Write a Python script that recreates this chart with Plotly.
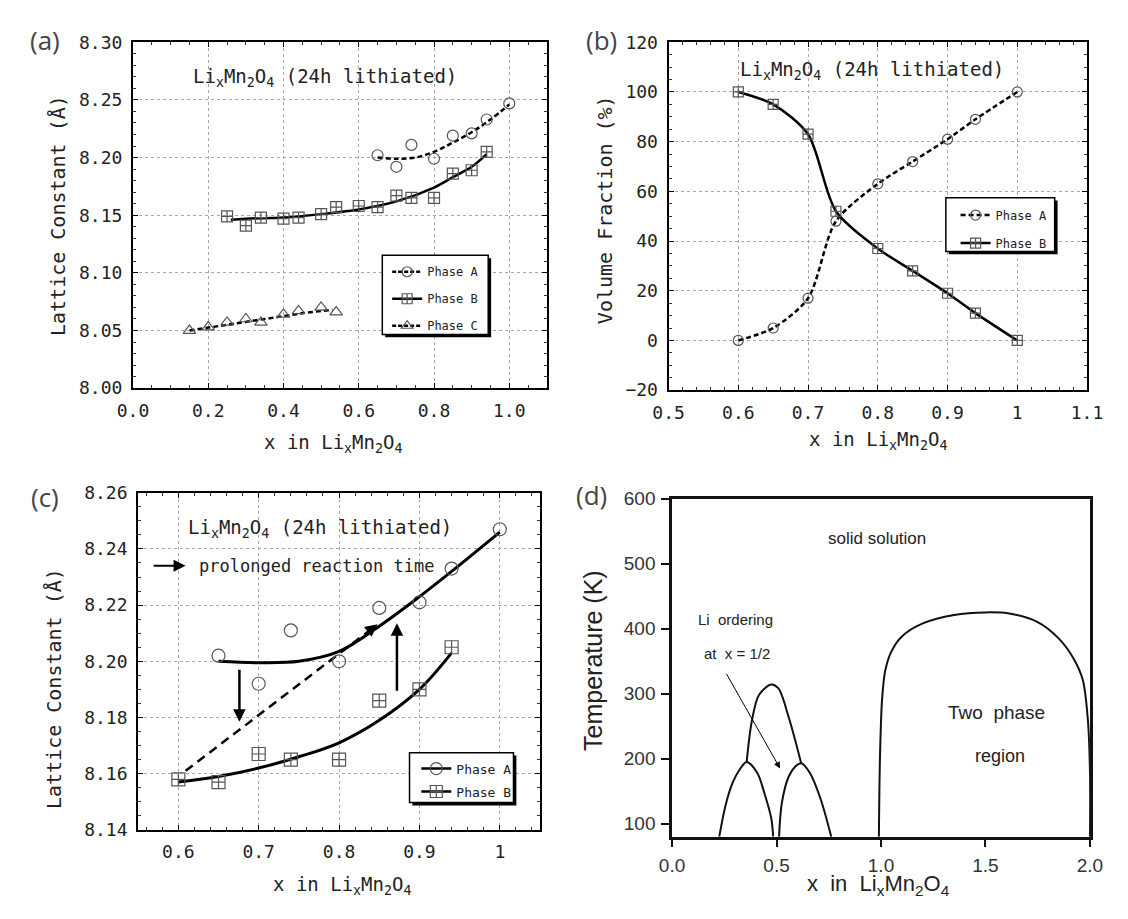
import plotly.graph_objects as go

W, H = 1128, 919
def px(x): return x / W
def py(y): return 1 - y / H

MONO = "DejaVu Sans Mono"
SANS = "Liberation Sans"
LBL = "Open Sans"

# ---------------- panel (a) data ----------------
a_A_x = [0.65, 0.70, 0.74, 0.80, 0.85, 0.90, 0.94, 1.00]
a_A_y = [8.202, 8.192, 8.211, 8.199, 8.219, 8.221, 8.233, 8.247]
a_B_x = [0.25, 0.30, 0.34, 0.40, 0.44, 0.50, 0.54, 0.60, 0.65, 0.70, 0.74, 0.80, 0.85, 0.90, 0.94]
a_B_y = [8.149, 8.141, 8.148, 8.147, 8.148, 8.151, 8.157, 8.158, 8.157, 8.167, 8.165, 8.165, 8.186, 8.189, 8.205]
a_C_x = [0.15, 0.20, 0.25, 0.30, 0.34, 0.40, 0.44, 0.50, 0.54]
a_C_y = [8.050, 8.053, 8.057, 8.060, 8.057, 8.064, 8.067, 8.070, 8.066]
a_fitA_x = [0.65, 0.70, 0.75, 0.80, 0.85, 0.90, 0.95, 1.00]
a_fitA_y = [8.200, 8.199, 8.200, 8.205, 8.213, 8.222, 8.233, 8.246]
a_fitB_x = [0.26, 0.30, 0.40, 0.50, 0.60, 0.70, 0.80, 0.85, 0.90, 0.94]
a_fitB_y = [8.146, 8.147, 8.148, 8.151, 8.155, 8.162, 8.174, 8.183, 8.192, 8.203]
a_fitC_x = [0.15, 0.25, 0.35, 0.45, 0.53]
a_fitC_y = [8.050, 8.055, 8.060, 8.065, 8.068]

# ---------------- panel (b) data ----------------
b_x = [0.60, 0.65, 0.70, 0.74, 0.80, 0.85, 0.90, 0.94, 1.00]
b_A = [0, 5, 17, 48, 63, 72, 81, 89, 100]
b_B = [100, 95, 83, 52, 37, 28, 19, 11, 0]

# ---------------- panel (c) data ----------------
c_A_x = [0.65, 0.70, 0.74, 0.80, 0.85, 0.90, 0.94, 1.00]
c_A_y = [8.202, 8.192, 8.211, 8.200, 8.219, 8.221, 8.233, 8.247]
c_B_x = [0.60, 0.65, 0.70, 0.74, 0.80, 0.85, 0.90, 0.94]
c_B_y = [8.158, 8.157, 8.167, 8.165, 8.165, 8.186, 8.190, 8.205]
c_fitA_x = [0.65, 0.70, 0.75, 0.80, 0.85, 0.90, 0.94, 1.00]
c_fitA_y = [8.200, 8.1995, 8.200, 8.2035, 8.2125, 8.223, 8.232, 8.246]
c_fitB_x = [0.60, 0.65, 0.70, 0.75, 0.80, 0.85, 0.90, 0.94]
c_fitB_y = [8.157, 8.159, 8.162, 8.166, 8.171, 8.179, 8.190, 8.203]
c_dash_x = [0.609, 0.845]
c_dash_y = [8.161, 8.2125]

# ---------------- panel (d) data ----------------
d_left_x = [0.226, 0.256, 0.29, 0.323, 0.357, 0.408, 0.441, 0.475, 0.484]
d_left_y = [80, 128, 163, 183, 195, 178, 148, 108, 80]
d_right_x = [0.512, 0.526, 0.559, 0.59, 0.618, 0.66, 0.711, 0.762]
d_right_y = [80, 133, 173, 188, 193, 178, 138, 80]
d_mid_x = [0.357, 0.382, 0.416, 0.475, 0.509, 0.559, 0.618]
d_mid_y = [195, 258, 298, 314, 308, 263, 193]
d_big_x = [0.99, 0.995, 1.005, 1.02, 1.05, 1.10, 1.20, 1.35, 1.50, 1.62, 1.75, 1.85, 1.92, 1.965, 1.99, 2.0, 2.0]
d_big_y = [80, 200, 290, 335, 365, 388, 408, 421, 425, 423, 410, 385, 355, 322, 260, 180, 80]

fig = go.Figure()

# ---- (a) traces
fig.add_trace(go.Scatter(x=a_fitA_x, y=a_fitA_y, mode="lines", line=dict(color="black", width=2.5, dash="5px,3px", shape="spline"), showlegend=False, xaxis="x", yaxis="y"))
fig.add_trace(go.Scatter(x=a_fitB_x, y=a_fitB_y, mode="lines", line=dict(color="black", width=2.5, shape="spline"), showlegend=False, xaxis="x", yaxis="y"))
fig.add_trace(go.Scatter(x=a_fitC_x, y=a_fitC_y, mode="lines", line=dict(color="black", width=2.5, dash="5px,3px", shape="spline"), showlegend=False, xaxis="x", yaxis="y"))
mk = dict(size=11, color="#555", line=dict(width=1.2))
fig.add_trace(go.Scatter(x=a_A_x, y=a_A_y, mode="markers", marker=dict(symbol="circle-open", **mk), showlegend=False, xaxis="x", yaxis="y"))
fig.add_trace(go.Scatter(x=a_B_x, y=a_B_y, mode="markers", marker=dict(symbol="square-cross-open", **mk), showlegend=False, xaxis="x", yaxis="y"))
fig.add_trace(go.Scatter(x=a_C_x, y=a_C_y, mode="markers", marker=dict(symbol="triangle-up-open", **mk), showlegend=False, xaxis="x", yaxis="y"))
for nm, sym, dash in [("Phase A", "circle-open", "4px,2px"), ("Phase B", "square-cross-open", "solid"), ("Phase C", "triangle-up-open", "4px,2px")]:
    fig.add_trace(go.Scatter(x=[None], y=[None], mode="lines+markers", name=nm, legend="legend", legendgroup="a" + nm,
                             line=dict(color="black", width=2.5, dash=dash), marker=dict(symbol=sym, size=10, color="#555", line=dict(width=1.2)),
                             xaxis="x", yaxis="y"))

# ---- (b) traces
fig.add_trace(go.Scatter(x=b_x, y=b_A, mode="lines+markers", name="Phase A", legend="legend2", legendgroup="bA",
                         line=dict(color="black", width=2.5, dash="5px,3px", shape="spline", smoothing=0.8),
                         marker=dict(symbol="circle-open", size=10, color="#555", line=dict(width=1.2)), xaxis="x2", yaxis="y2"))
fig.add_trace(go.Scatter(x=b_x, y=b_B, mode="lines+markers", name="Phase B", legend="legend2", legendgroup="bB",
                         line=dict(color="black", width=2.5, shape="spline", smoothing=0.8),
                         marker=dict(symbol="square-cross-open", size=10, color="#555", line=dict(width=1.2)), xaxis="x2", yaxis="y2"))

# ---- (c) traces
fig.add_trace(go.Scatter(x=c_fitA_x, y=c_fitA_y, mode="lines", line=dict(color="black", width=3, shape="spline"), showlegend=False, xaxis="x3", yaxis="y3"))
fig.add_trace(go.Scatter(x=c_fitB_x, y=c_fitB_y, mode="lines", line=dict(color="black", width=3, shape="spline"), showlegend=False, xaxis="x3", yaxis="y3"))
fig.add_trace(go.Scatter(x=c_dash_x, y=c_dash_y, mode="lines", line=dict(color="black", width=2.5, dash="9px,6px"), showlegend=False, xaxis="x3", yaxis="y3"))
mkc = dict(size=13, color="#555", line=dict(width=1.2))
fig.add_trace(go.Scatter(x=c_A_x, y=c_A_y, mode="markers", marker=dict(symbol="circle-open", **mkc), showlegend=False, xaxis="x3", yaxis="y3"))
fig.add_trace(go.Scatter(x=c_B_x, y=c_B_y, mode="markers", marker=dict(symbol="square-cross-open", **mkc), showlegend=False, xaxis="x3", yaxis="y3"))
for nm, sym in [("Phase A", "circle-open"), ("Phase B", "square-cross-open")]:
    fig.add_trace(go.Scatter(x=[None], y=[None], mode="lines+markers", name=nm, legend="legend3", legendgroup="c" + nm,
                             line=dict(color="black", width=2.5), marker=dict(symbol=sym, size=12, color="#555", line=dict(width=1.2)),
                             xaxis="x3", yaxis="y3"))

# ---- (d) traces
for xs, ys in [(d_left_x, d_left_y), (d_right_x, d_right_y), (d_mid_x, d_mid_y), (d_big_x, d_big_y)]:
    fig.add_trace(go.Scatter(x=xs, y=ys, mode="lines", line=dict(color="#111", width=2, shape="spline", smoothing=0.9),
                             showlegend=False, xaxis="x4", yaxis="y4"))


def sci_axis(domain, rng, dtick, mdtick, fmt, anchor, tick0=0):
    return dict(domain=domain, range=rng, dtick=dtick, tick0=tick0, tickformat=fmt, anchor=anchor,
                showgrid=True, gridcolor="#a8a8a8", griddash="dot", gridwidth=1,
                showline=True, linecolor="black", linewidth=2, mirror="allticks",
                ticks="inside", ticklen=5, tickwidth=1, tickcolor="black",
                minor=dict(ticks="inside", ticklen=3, dtick=mdtick, tickcolor="#333", showgrid=False),
                tickfont=dict(family=MONO, size=18, color="#222"), zeroline=False, ticklabelstandoff=5)


def d_axis(domain, rng, dtick, fmt, anchor):
    return dict(domain=domain, range=rng, dtick=dtick, tick0=0, tickformat=fmt, anchor=anchor,
                showgrid=False, showline=True, linecolor="#111", linewidth=2.5, mirror=True,
                ticks="outside", ticklen=8, tickwidth=2, tickcolor="#111",
                tickfont=dict(family=SANS, size=19, color="#333"), zeroline=False, ticklabelstandoff=2)


fig.update_layout(
    width=W, height=H, margin=dict(l=0, r=0, t=0, b=0),
    paper_bgcolor="white", plot_bgcolor="white",
    xaxis=sci_axis([px(120.4), px(546.4)], [0, 1.1], 0.2, 0.05, ".1f", "y"),
    yaxis=sci_axis([py(386), py(32)], [8.0, 8.3], 0.05, 0.01, ".2f", "x"),
    xaxis2=sci_axis([px(671.6), px(1102.3)], [0.5, 1.1], 0.1, 0.02, "", "y2"),
    yaxis2=sci_axis([py(388), py(32)], [-20, 120], 20, 5, "", "x2"),
    xaxis3=sci_axis([px(125.7), px(539.3)], [0.55, 1.05], 0.1, 0.02, "", "y3"),
    yaxis3=sci_axis([py(838), py(493)], [8.14, 8.26], 0.02, 0.005, ".2f", "x3"),
    xaxis4=d_axis([px(675.2), px(1105.3)], [0, 2], 0.5, ".1f", "y4"),
    yaxis4=d_axis([py(845), py(499)], [80, 600], 100, "", "x4"),
    legend=dict(x=px(382), y=py(252), xanchor="left", yanchor="top", bgcolor="rgba(0,0,0,0)", borderwidth=0,
                font=dict(family=MONO, size=12, color="#222"), itemwidth=30, tracegroupgap=8, traceorder="grouped"),
    legend2=dict(x=px(967), y=py(194), xanchor="left", yanchor="top", bgcolor="rgba(0,0,0,0)", borderwidth=0,
                 font=dict(family=MONO, size=12, color="#222"), itemwidth=30, tracegroupgap=9, traceorder="grouped"),
    legend3=dict(x=px(412), y=py(760), xanchor="left", yanchor="top", bgcolor="rgba(0,0,0,0)", borderwidth=0,
                 font=dict(family=MONO, size=13, color="#222"), itemwidth=30, tracegroupgap=3, traceorder="grouped"),
)

# legend boxes with shadow
shapes = []
for (x0, y0, x1, y1) in [(377, 250, 486, 331), (957, 191, 1069, 246), (405, 759, 512, 810)]:
    shapes.append(dict(type="rect", xref="paper", yref="paper", x0=px(x0 + 3), x1=px(x1 + 3), y0=py(y1 + 3), y1=py(y0 + 3),
                       fillcolor="black", line=dict(width=0), layer="above"))
    shapes.append(dict(type="rect", xref="paper", yref="paper", x0=px(x0), x1=px(x1), y0=py(y1), y1=py(y0),
                       fillcolor="white", line=dict(color="black", width=1.5), layer="above"))
fig.update_layout(shapes=shapes)

ann = []
def txt(x, y, s, size, family=MONO, color="#222", angle=0, xanchor="center"):
    ann.append(dict(x=px(x), y=py(y), xref="paper", yref="paper", text=s, showarrow=False, textangle=angle,
                    xanchor=xanchor, yanchor="middle", font=dict(family=family, size=size, color=color)))

formula = "Li<sub>x</sub>Mn<sub>2</sub>O<sub>4</sub>"
# panel labels
txt(30, 30, "(a)", 26, LBL, "#444")
txt(603, 30, "(b)", 26, LBL, "#444")
txt(30, 497, "(c)", 26, LBL, "#444")
txt(592, 495, "(d)", 26, LBL, "#444")
# titles
txt(180, 68, formula + " (24h lithiated)", 19, xanchor="left")
txt(743, 61, formula + " (24h lithiated)", 19, xanchor="left")
txt(175, 530, formula + " (24h lithiated)", 19, xanchor="left")
txt(186, 568, "prolonged reaction time", 17, xanchor="left")
# axis titles
txt(43, 209, "Lattice Constant (Å)", 20, angle=-90)
txt(326, 443, "x in " + formula, 19)
txt(607, 203, "Volume Fraction (%)", 20, angle=-90)
txt(887, 440, "x in " + formula, 19)
txt(39, 693, "Lattice Constant (Å)", 20, angle=-90)
txt(336, 895, "x in " + formula, 19)
txt(594, 665, "Temperature (K)", 25, SANS, "#222", angle=-90)
txt(888, 894, "x  in  " + formula, 22, SANS, "#222")
# (d) labels
txt(886, 540, "solid solution", 17, SANS, "#222")
txt(741, 623, "Li  ordering", 15, SANS, "#222")
txt(742, 658, "at  x = 1/2", 15, SANS, "#222")
txt(1009, 718, "Two  phase", 19, SANS, "#222")
txt(1013, 762, "region", 18, SANS, "#222")

# arrows (data coordinates)
def arrow(xr, yr, x0, y0, x1, y1, width=2.5, head=2, size=1.0):
    ann.append(dict(x=x1, y=y1, ax=x0, ay=y0, xref=xr, yref=yr, axref=xr, ayref=yr, text="", showarrow=True,
                    arrowhead=head, arrowwidth=width, arrowsize=size, arrowcolor="black"))

arrow("x3", "y3", 0.5675, 8.234, 0.609, 8.234, 2, 2, 1.2)
arrow("x3", "y3", 0.676, 8.1975, 0.676, 8.1785, 2.5, 2, 1.0)
arrow("x3", "y3", 0.872, 8.189, 0.872, 8.2135, 2.5, 2, 1.0)
arrow("x3", "y3", 0.835, 8.2103, 0.848, 8.2132, 2.5, 2, 1.0)
arrow("x4", "y4", 0.256, 333, 0.517, 185, 1, 2, 1.3)

fig.update_layout(annotations=ann)
fig.write_html("out.html", config={"displayModeBar": False}, post_script="document.body.style.margin='0px';")
